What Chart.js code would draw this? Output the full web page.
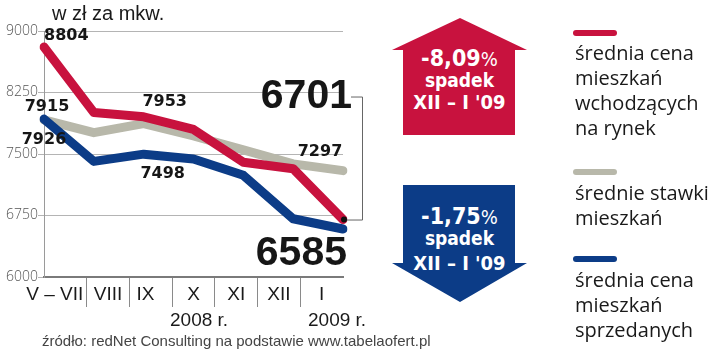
<!DOCTYPE html>
<html>
<head>
<meta charset="utf-8">
<script src="https://cdn.jsdelivr.net/npm/chart.js@4/dist/chart.umd.min.js"></script>
<style>
  html, body { margin: 0; padding: 0; background: #fff; }
  #wrap { position: relative; width: 720px; height: 352px; overflow: hidden; }
  canvas { position: absolute; left: 0; top: 0; }
  .t { position: absolute; white-space: nowrap; color: #1a1a1a; font-family: "Liberation Sans", Arial, sans-serif; }
  .arrow { position: absolute; left: 392px; width: 135px; height: 117px; color: #fff; text-align: center; }
  .arrow .l { position: absolute; left: 0; width: 135px; line-height: 1; font-family: "DejaVu Sans Condensed", "DejaVu Sans", sans-serif; font-weight: bold; font-stretch: condensed; }
  .lg { position: absolute; left: 573px; width: 44px; height: 6px; border-radius: 3px; }
  .lt { position: absolute; left: 575px; font-family: "Open Sans", "Noto Sans", sans-serif; font-size: 20px; line-height: 25px; color: #1a1a1a; white-space: nowrap; }
</style>
</head>
<body>
<div id="wrap">
  <canvas id="c" width="720" height="352"></canvas>
  <div class="t" style="left:52px; top:2px; font-size:20px;">w zł za mkw.</div>
  <div class="t" style="left:170px; top:309px; font-size:19px;">2008 r.</div>
  <div class="t" style="left:308px; top:309px; font-size:19px;">2009 r.</div>
  <div class="t" style="left:42px; top:332px; font-size:15px; color:#444;">źródło: redNet Consulting na podstawie www.tabelaofert.pl</div>

  <div class="arrow" style="top:18px; background:#c8123e; clip-path: polygon(68px 0, 135px 32px, 123px 32px, 123px 117px, 11px 117px, 11px 32px, 0 32px);">
    <div class="l" style="top:29px; font-size:23px;">-8,09<span style="font-weight:normal;font-size:20px;">%</span></div>
    <div class="l" style="top:53px; font-size:19px;">spadek</div>
    <div class="l" style="top:74px; font-size:20px;">XII – I '09</div>
  </div>
  <div class="arrow" style="top:185px; background:#0c3c87; clip-path: polygon(11px 0, 123px 0, 123px 78px, 135px 78px, 68px 117px, 0 78px, 11px 78px);">
    <div class="l" style="top:20px; font-size:23px;">-1,75<span style="font-weight:normal;font-size:20px;">%</span></div>
    <div class="l" style="top:44px; font-size:19px;">spadek</div>
    <div class="l" style="top:68px; font-size:20px;">XII – I '09</div>
  </div>

  <div class="lg" style="top:30px; background:#c8123e;"></div>
  <div class="lt" style="top:40px;">średnia cena<br>mieszkań<br>wchodzących<br>na rynek</div>
  <div class="lg" style="top:169px; background:#b8b8aa;"></div>
  <div class="lt" style="top:180px;">średnie stawki<br>mieszkań</div>
  <div class="lg" style="top:256px; background:#0c3c87;"></div>
  <div class="lt" style="top:267px;">średnia cena<br>mieszkań<br>sprzedanych</div>
</div>
<script>
const months = ["V – VII", "VIII", "IX", "X", "XI", "XII", "I"];
const newListings = [8804, 8005, 7953, 7800, 7400, 7320, 6701];
const rentRates   = [7915, 7760, 7870, 7720, 7550, 7380, 7297];
const soldPrices  = [7926, 7410, 7498, 7440, 7240, 6710, 6585];
const yTicks = [6000, 6750, 7500, 8250, 9000];

const RED = "#c8123e", GRAY = "#b8b8aa", BLUE = "#0c3c87";

// value labels: [datasetIndex, pointIndex, fontSize, dx, dy, align]
const valueLabels = [
  [0, 0, 16, 0, -11, "left"],
  [1, 0, 16, 3, -13, "center"],
  [2, 0, 16, 0, 21, "center"],
  [0, 2, 16, 21, -15, "center"],
  [2, 2, 16, 19, 20, "center"],
  [1, 6, 16, -23, -19, "center"],
  [0, 6, 41, 9, -123, "right"],
  [2, 6, 41, 4, 25, "right"]
];

const labelPlugin = {
  id: "valueLabels",
  afterDatasetsDraw(chart) {
    const ctx = chart.ctx, xs = chart.scales.x, ys = chart.scales.y;
    ctx.save();
    ctx.textBaseline = "middle";
    ctx.fillStyle = "#161616";
    valueLabels.forEach(([d, i, fs, dx, dy, al]) => {
      const v = chart.data.datasets[d].data[i];
      const px = xs.getPixelForValue(i), py = ys.getPixelForValue(v);
      ctx.font = (fs > 30 ? "bold " + fs + "px 'Liberation Sans', Arial" : "bold " + fs + "px 'DejaVu Sans', sans-serif");
      ctx.textAlign = al;
      ctx.fillText(String(v), px + dx, py + dy);
    });
    // bracket linking big 6701 label with its point
    const last = newListings.length - 1;
    const px = xs.getPixelForValue(last), py = ys.getPixelForValue(newListings[last]);
    const topY = py - 123;
    ctx.strokeStyle = "#666";
    ctx.lineWidth = 1;
    ctx.beginPath();
    ctx.moveTo(px + 8, topY + 0.5);
    ctx.lineTo(px + 19.5, topY + 0.5);
    ctx.lineTo(px + 19.5, py + 0.5);
    ctx.lineTo(px + 2, py + 0.5);
    ctx.stroke();
    ctx.fillStyle = "#111";
    ctx.beginPath();
    ctx.arc(px + 1, py, 3, 0, Math.PI * 2);
    ctx.fill();
    ctx.restore();
  }
};

new Chart(document.getElementById("c"), {
  type: "line",
  data: {
    labels: months,
    datasets: [
      { label: "średnia cena mieszkań wchodzących na rynek", data: newListings, borderColor: RED, order: 0 },
      { label: "średnie stawki mieszkań", data: rentRates, borderColor: GRAY, order: 2 },
      { label: "średnia cena mieszkań sprzedanych", data: soldPrices, borderColor: BLUE, order: 1 }
    ]
  },
  options: {
    responsive: false,
    animation: false,
    devicePixelRatio: 1,
    layout: { padding: { left: 0, right: 377, top: 31, bottom: 0 } },
    elements: {
      line: { borderWidth: 9, tension: 0, borderCapStyle: "round", borderJoinStyle: "round" },
      point: { radius: 0, hoverRadius: 0 }
    },
    plugins: { legend: { display: false }, tooltip: { enabled: false } },
    scales: {
      x: { type: "category", offset: false, display: false },
      x2: {
        type: "category", position: "bottom", offset: true,
        afterFit(s) { s.height = 75; },
        grid: {
          offset: true, drawOnChartArea: false, drawTicks: true, tickLength: 30,
          color: (c) => (c.type === "tick" && c.index >= 1 && c.index <= 6) ? "#8a8a8a" : "rgba(0,0,0,0)",
          lineWidth: 1
        },
        border: { display: true, color: "#7a7a7a", width: 2 },
        ticks: {
          padding: -24, color: "#1a1a1a", font: { family: "'Liberation Sans', Arial", size: 19 }, maxRotation: 0, autoSkip: false,
          callback(v, i) { const s = months[i]; return i === 0 ? s + "    " : (i === 2 ? s + "  " : s); }
        }
      },
      y: {
        min: 6000, max: 9000,
        afterFit(s) { s.width = 44; },
        afterBuildTicks(s) { s.ticks = yTicks.map(v => ({ value: v })); },
        grid: { color: "#b4b4b4", lineWidth: 1, tickLength: 6 },
        border: { display: true, color: "#9a9a9a", width: 1 },
        ticks: { padding: 0, color: "#555", font: { family: "'Open Sans', sans-serif", size: 14, weight: "300" }, callback: (v) => String(v) }
      }
    }
  },
  plugins: [labelPlugin]
});
</script>
</body>
</html>
